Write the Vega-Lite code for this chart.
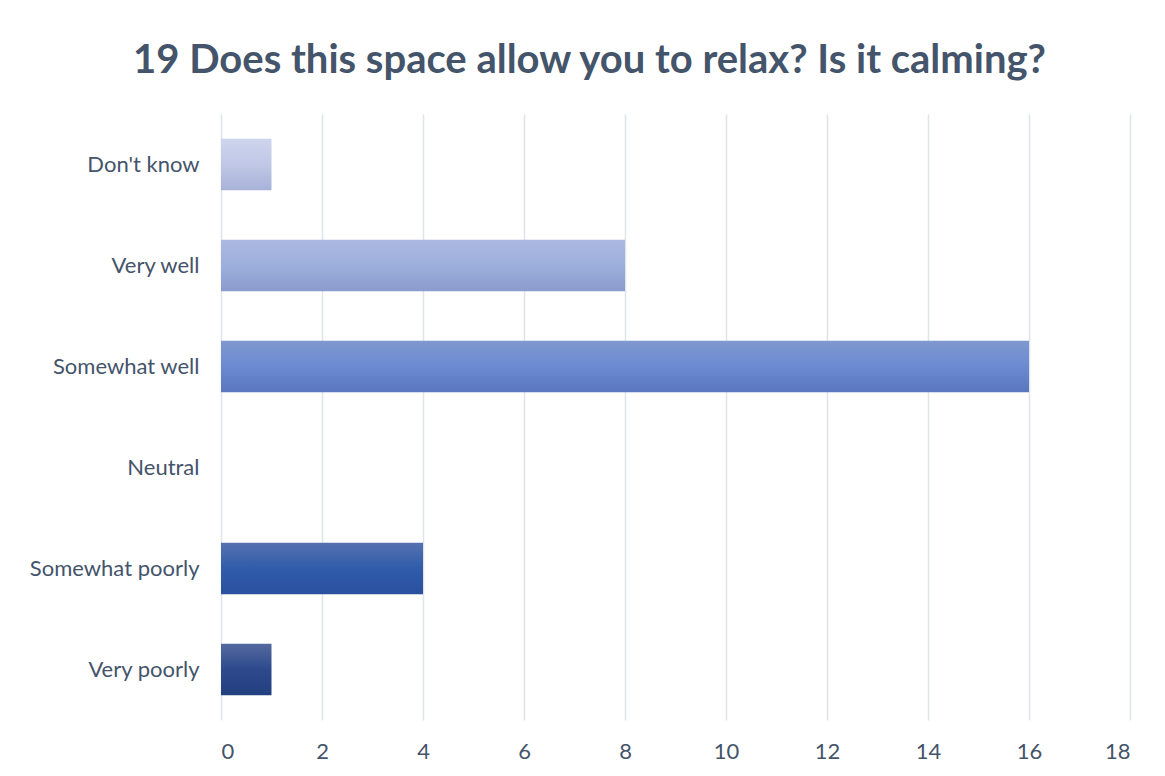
{
  "$schema": "https://vega.github.io/schema/vega-lite/v6.json",
  "autosize": "none",
  "width": 909,
  "height": 606,
  "padding": {"left": 221, "top": 114, "right": 35, "bottom": 56},
  "background": "white",
  "title": {
    "text": "19 Does this space allow you to relax? Is it calming?",
    "font": "Lato",
    "fontSize": 40,
    "fontWeight": "bold",
    "color": "#44546a",
    "anchor": "middle",
    "dx": -86,
    "offset": 33
  },
  "data": {
    "values": [
      {"answer": "Don't know", "count": 1},
      {"answer": "Very well", "count": 8},
      {"answer": "Somewhat well", "count": 16},
      {"answer": "Neutral", "count": 0},
      {"answer": "Somewhat poorly", "count": 4},
      {"answer": "Very poorly", "count": 1}
    ]
  },
  "encoding": {
    "y": {
      "field": "answer",
      "type": "nominal",
      "sort": ["Don't know", "Very well", "Somewhat well", "Neutral", "Somewhat poorly", "Very poorly"],
      "scale": {
        "domain": ["Don't know", "Very well", "Somewhat well", "Neutral", "Somewhat poorly", "Very poorly"],
        "paddingInner": 0.49,
        "paddingOuter": 0.245
      },
      "axis": {
        "title": null,
        "domain": false,
        "ticks": false,
        "labelFont": "Lato",
        "labelFontSize": 22,
        "labelColor": "#44546a",
        "labelPadding": 22
      }
    },
    "x": {
      "field": "count",
      "type": "quantitative",
      "scale": {"domain": [0, 18], "nice": false},
      "axis": {
        "title": null,
        "values": [0, 2, 4, 6, 8, 10, 12, 14, 16, 18],
        "domain": false,
        "ticks": false,
        "grid": true,
        "gridColor": "#dfe3ea",
        "gridWidth": 1.5,
        "labelFont": "Lato",
        "labelFontSize": 22,
        "labelColor": "#44546a",
        "labelPadding": 21
      }
    }
  },
  "layer": [
    {
      "transform": [{"filter": "datum.answer === \"Don't know\""}],
      "mark": {"type": "bar", "fill": {"gradient": "linear", "x1": 0, "y1": 0, "x2": 0, "y2": 1, "stops": [{"offset": 0, "color": "#ced4ed"}, {"offset": 0.5, "color": "#c0c8e6"}, {"offset": 1, "color": "#a8b2d8"}]}}
    },
    {
      "transform": [{"filter": "datum.answer === 'Very well'"}],
      "mark": {"type": "bar", "fill": {"gradient": "linear", "x1": 0, "y1": 0, "x2": 0, "y2": 1, "stops": [{"offset": 0, "color": "#acb9e1"}, {"offset": 0.5, "color": "#9dafdc"}, {"offset": 1, "color": "#8a9bcd"}]}}
    },
    {
      "transform": [{"filter": "datum.answer === 'Somewhat well'"}],
      "mark": {"type": "bar", "fill": {"gradient": "linear", "x1": 0, "y1": 0, "x2": 0, "y2": 1, "stops": [{"offset": 0, "color": "#8098d0"}, {"offset": 0.5, "color": "#6b8ad1"}, {"offset": 1, "color": "#5a77be"}]}}
    },
    {
      "transform": [{"filter": "datum.answer === 'Somewhat poorly'"}],
      "mark": {"type": "bar", "fill": {"gradient": "linear", "x1": 0, "y1": 0, "x2": 0, "y2": 1, "stops": [{"offset": 0, "color": "#5672b0"}, {"offset": 0.5, "color": "#2f5cab"}, {"offset": 1, "color": "#2a509e"}]}}
    },
    {
      "transform": [{"filter": "datum.answer === 'Very poorly'"}],
      "mark": {"type": "bar", "fill": {"gradient": "linear", "x1": 0, "y1": 0, "x2": 0, "y2": 1, "stops": [{"offset": 0, "color": "#55699f"}, {"offset": 0.5, "color": "#2e4a8d"}, {"offset": 1, "color": "#223f80"}]}}
    }
  ],
  "config": {"view": {"stroke": null}}
}
